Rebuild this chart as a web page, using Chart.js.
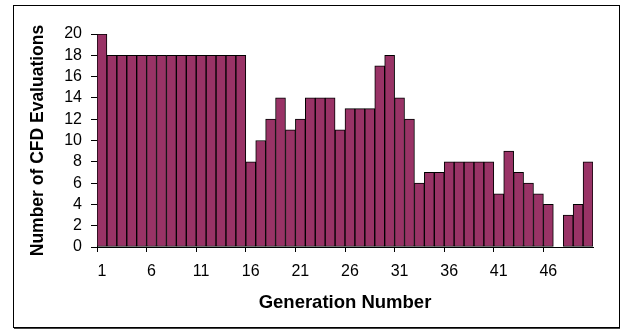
<!DOCTYPE html>
<html>
<head>
<meta charset="utf-8">
<script src="https://cdn.jsdelivr.net/npm/chart.js@4/dist/chart.umd.min.js"></script>
<style>
  html, body { margin: 0; padding: 0; background: #fff; }
  #wrap { position: relative; width: 620px; height: 329px; }
  #frame { position: absolute; left: 13px; top: 5px; width: 605px; height: 321px;
           border: 1px solid #000; box-shadow: 1px 1px 0 #444; }
  #c { position: absolute; left: 0; top: 0; }
</style>
</head>
<body>
<div id="wrap">
  <div id="frame"></div>
  <canvas id="c" width="620" height="329"></canvas>
</div>
<script>
// Generation numbers (categories)
const generations = [1,2,3,4,5,6,7,8,9,10,11,12,13,14,15,16,17,18,19,20,
                     21,22,23,24,25,26,27,28,29,30,31,32,33,34,35,36,37,38,39,40,
                     41,42,43,44,45,46,47,48,49,50];
// Number of CFD evaluations per generation
const cfdEvaluations = [20,18,18,18,18,18,18,18,18,18,18,18,18,18,18,8,10,12,14,11,
                        12,14,14,14,11,13,13,13,17,18,14,12,6,7,7,8,8,8,8,8,
                        5,9,7,6,5,4,0,3,4,8];
// Tick labels shown on the x axis
const xTickLabels = ['1','6','11','16','21','26','31','36','41','46'];
// Y axis range
const yMin = 0, yMax = 20, yStep = 2;

const FONT = "'Liberation Sans', Arial, sans-serif";

new Chart(document.getElementById('c'), {
  type: 'bar',
  data: {
    labels: generations.map(String),
    datasets: [{
      data: cfdEvaluations,
      backgroundColor: '#993366',
      borderColor: '#000000',
      borderWidth: 1,
      borderSkipped: false,
      barPercentage: 1,
      categoryPercentage: 1
    }]
  },
  options: {
    responsive: false,
    animation: false,
    devicePixelRatio: 1,
    layout: { padding: { left: 0, right: 27, top: 34, bottom: 0 } },
    plugins: { legend: { display: false }, tooltip: { enabled: false } },
    scales: {
      x: {
        offset: true,
        grid: {
          offset: true,
          drawOnChartArea: false,
          drawTicks: true,
          tickLength: 5,
          color: (ctx) => (ctx.index % 5 === 0 ? '#000' : 'rgba(0,0,0,0)')
        },
        border: { display: true, color: '#000', width: 1 },
        ticks: {
          autoSkip: false,
          maxRotation: 0,
          minRotation: 0,
          padding: 10,
          color: '#000',
          font: { family: FONT, size: 16 },
          callback: function (val, i) {
            const l = this.getLabelForValue(val);
            return xTickLabels.includes(l) ? l : '';
          }
        },
        title: {
          display: true,
          text: 'Generation Number',
          color: '#000',
          font: { family: FONT, size: 18.5, weight: 'bold' },
          padding: { top: 0, bottom: 15 }
        },
        afterFit: (s) => { s.height = 82; }
      },
      y: {
        min: yMin,
        max: yMax,
        grid: {
          drawOnChartArea: false,
          drawTicks: true,
          tickLength: 6,
          color: '#000'
        },
        border: { display: true, color: '#000', width: 1 },
        ticks: {
          stepSize: yStep,
          autoSkip: false,
          padding: 9,
          color: '#000',
          font: { family: FONT, size: 16 }
        },
        title: {
          display: true,
          text: 'Number of CFD Evaluations',
          color: '#000',
          font: { family: FONT, size: 17.5, weight: 'bold' },
          padding: { top: 28, bottom: 0 }
        },
        afterFit: (s) => { s.width = 97; }
      }
    }
  }
});
</script>
</body>
</html>
